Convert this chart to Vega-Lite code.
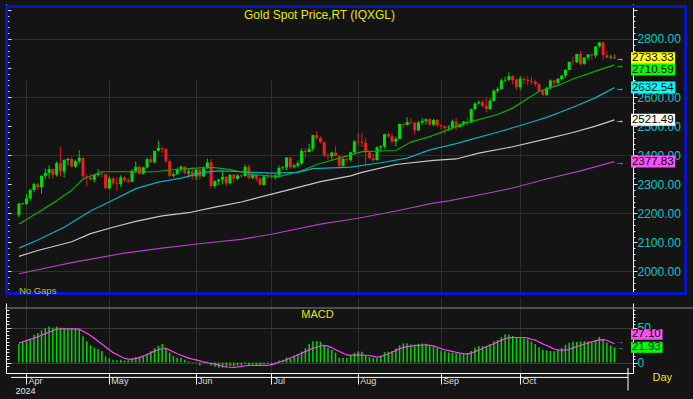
{
"$schema": "https://vega.github.io/schema/vega-lite/v6.json",
"width": 627, "height": 369,
"autosize": "none",
"padding": {"left": 6, "top": 4, "right": 60, "bottom": 26},
"background": "#141414",
"config": {"view": {"stroke": null}, "font": "Liberation Sans", "axis": {"labelFont": "Liberation Sans", "titleFont": "Liberation Sans"}},
"datasets": {
"bars": [
{"i":0,"d":"2024-03-28","o":2194,"h":2236,"l":2186,"c":2233,"m":26.6,"s":27.9},
{"i":1,"d":"2024-03-29","o":2232,"h":2236,"l":2230,"c":2234,"m":28.7,"s":29.7},
{"i":2,"d":"2024-04-01","o":2233,"h":2266,"l":2229,"c":2251,"m":30.7,"s":31.5},
{"i":3,"d":"2024-04-02","o":2251,"h":2285,"l":2243,"c":2280,"m":34,"s":33.3},
{"i":4,"d":"2024-04-03","o":2280,"h":2305,"l":2272,"c":2300,"m":40,"s":35.1},
{"i":5,"d":"2024-04-04","o":2300,"h":2305,"l":2280,"c":2290,"m":42,"s":36.9},
{"i":6,"d":"2024-04-05","o":2290,"h":2331,"l":2268,"c":2329,"m":46,"s":39.2},
{"i":7,"d":"2024-04-08","o":2329,"h":2354,"l":2319,"c":2339,"m":49,"s":41.5},
{"i":8,"d":"2024-04-09","o":2339,"h":2365,"l":2320,"c":2352,"m":51.6,"s":43.6},
{"i":9,"d":"2024-04-10","o":2352,"h":2354,"l":2319,"c":2333,"m":50,"s":45.7},
{"i":10,"d":"2024-04-11","o":2333,"h":2378,"l":2326,"c":2372,"m":51.6,"s":47.8},
{"i":11,"d":"2024-04-12","o":2372,"h":2431,"l":2326,"c":2344,"m":50,"s":48.4},
{"i":12,"d":"2024-04-15","o":2344,"h":2386,"l":2324,"c":2383,"m":50,"s":48.4},
{"i":13,"d":"2024-04-16","o":2383,"h":2392,"l":2364,"c":2387,"m":49,"s":48.4},
{"i":14,"d":"2024-04-17","o":2387,"h":2395,"l":2358,"c":2361,"m":49,"s":48.3},
{"i":15,"d":"2024-04-18","o":2361,"h":2385,"l":2356,"c":2379,"m":48.4,"s":48.2},
{"i":16,"d":"2024-04-19","o":2379,"h":2417,"l":2371,"c":2391,"m":47,"s":48},
{"i":17,"d":"2024-04-22","o":2391,"h":2392,"l":2320,"c":2327,"m":37.7,"s":45},
{"i":18,"d":"2024-04-23","o":2327,"h":2333,"l":2292,"c":2322,"m":30.7,"s":42},
{"i":19,"d":"2024-04-24","o":2322,"h":2334,"l":2313,"c":2316,"m":24.6,"s":38.9},
{"i":20,"d":"2024-04-25","o":2316,"h":2336,"l":2306,"c":2332,"m":21.3,"s":34.8},
{"i":21,"d":"2024-04-26","o":2332,"h":2352,"l":2326,"c":2337,"m":19.3,"s":30.7},
{"i":22,"d":"2024-04-29","o":2337,"h":2346,"l":2323,"c":2335,"m":16.4,"s":26.6},
{"i":23,"d":"2024-04-30","o":2335,"h":2336,"l":2285,"c":2286,"m":9,"s":22.5},
{"i":24,"d":"2024-05-01","o":2286,"h":2327,"l":2282,"c":2320,"m":6.1,"s":18.4},
{"i":25,"d":"2024-05-02","o":2320,"h":2326,"l":2296,"c":2303,"m":4.1,"s":14.3},
{"i":26,"d":"2024-05-03","o":2303,"h":2324,"l":2277,"c":2301,"m":3.3,"s":11.5},
{"i":27,"d":"2024-05-06","o":2301,"h":2331,"l":2291,"c":2323,"m":4.1,"s":8.8},
{"i":28,"d":"2024-05-07","o":2323,"h":2327,"l":2308,"c":2314,"m":2.9,"s":6},
{"i":29,"d":"2024-05-08","o":2314,"h":2321,"l":2303,"c":2309,"m":3.3,"s":4.9},
{"i":30,"d":"2024-05-09","o":2309,"h":2351,"l":2307,"c":2346,"m":6.1,"s":4.9},
{"i":31,"d":"2024-05-10","o":2346,"h":2378,"l":2338,"c":2360,"m":8.2,"s":5.8},
{"i":32,"d":"2024-05-13","o":2360,"h":2364,"l":2333,"c":2336,"m":7.4,"s":7.5},
{"i":33,"d":"2024-05-14","o":2336,"h":2360,"l":2333,"c":2358,"m":10.2,"s":9.2},
{"i":34,"d":"2024-05-15","o":2358,"h":2392,"l":2354,"c":2386,"m":13.1,"s":11.5},
{"i":35,"d":"2024-05-16","o":2386,"h":2397,"l":2373,"c":2376,"m":16.4,"s":14},
{"i":36,"d":"2024-05-17","o":2376,"h":2415,"l":2371,"c":2415,"m":20.5,"s":16.4},
{"i":37,"d":"2024-05-20","o":2415,"h":2450,"l":2413,"c":2425,"m":23.8,"s":18.4},
{"i":38,"d":"2024-05-21","o":2425,"h":2427,"l":2407,"c":2421,"m":26.6,"s":19.5},
{"i":39,"d":"2024-05-22","o":2421,"h":2425,"l":2374,"c":2379,"m":21.3,"s":20.5},
{"i":40,"d":"2024-05-23","o":2379,"h":2386,"l":2325,"c":2329,"m":14.3,"s":18},
{"i":41,"d":"2024-05-24","o":2329,"h":2341,"l":2324,"c":2334,"m":9.4,"s":15.2},
{"i":42,"d":"2024-05-27","o":2334,"h":2358,"l":2333,"c":2351,"m":7,"s":12.6},
{"i":43,"d":"2024-05-28","o":2351,"h":2364,"l":2341,"c":2361,"m":7,"s":10.5},
{"i":44,"d":"2024-05-29","o":2361,"h":2362,"l":2334,"c":2338,"m":4.1,"s":8.5},
{"i":45,"d":"2024-05-30","o":2338,"h":2351,"l":2323,"c":2343,"m":2,"s":6.5},
{"i":46,"d":"2024-05-31","o":2343,"h":2360,"l":2315,"c":2327,"m":0.8,"s":4.9},
{"i":47,"d":"2024-06-03","o":2327,"h":2354,"l":2314,"c":2350,"m":0.8,"s":3.8},
{"i":48,"d":"2024-06-04","o":2350,"h":2353,"l":2316,"c":2327,"m":-4,"s":2.5},
{"i":49,"d":"2024-06-05","o":2327,"h":2361,"l":2325,"c":2355,"m":-0.8,"s":1},
{"i":50,"d":"2024-06-06","o":2355,"h":2388,"l":2353,"c":2375,"m":1.6,"s":-0.2},
{"i":51,"d":"2024-06-07","o":2375,"h":2387,"l":2286,"c":2294,"m":-4,"s":-1.3},
{"i":52,"d":"2024-06-10","o":2294,"h":2314,"l":2286,"c":2311,"m":-6,"s":-2.2},
{"i":53,"d":"2024-06-11","o":2311,"h":2318,"l":2297,"c":2316,"m":-7.2,"s":-3.7},
{"i":54,"d":"2024-06-12","o":2316,"h":2342,"l":2299,"c":2325,"m":-7,"s":-5.2},
{"i":55,"d":"2024-06-13","o":2325,"h":2328,"l":2294,"c":2303,"m":-6.5,"s":-6.3},
{"i":56,"d":"2024-06-14","o":2303,"h":2335,"l":2299,"c":2333,"m":-5,"s":-6.7},
{"i":57,"d":"2024-06-17","o":2333,"h":2335,"l":2307,"c":2319,"m":-5.5,"s":-7},
{"i":58,"d":"2024-06-18","o":2319,"h":2335,"l":2314,"c":2330,"m":-4.5,"s":-6.3},
{"i":59,"d":"2024-06-19","o":2330,"h":2335,"l":2322,"c":2328,"m":-4,"s":-5.5},
{"i":60,"d":"2024-06-20","o":2328,"h":2368,"l":2326,"c":2360,"m":-1.5,"s":-4.5},
{"i":61,"d":"2024-06-21","o":2360,"h":2368,"l":2316,"c":2322,"m":-3.5,"s":-4.1},
{"i":62,"d":"2024-06-24","o":2322,"h":2337,"l":2317,"c":2334,"m":-2.5,"s":-4.1},
{"i":63,"d":"2024-06-25","o":2334,"h":2334,"l":2309,"c":2319,"m":-3,"s":-4.1},
{"i":64,"d":"2024-06-26","o":2319,"h":2324,"l":2294,"c":2298,"m":-4,"s":-4.1},
{"i":65,"d":"2024-06-27","o":2298,"h":2332,"l":2295,"c":2327,"m":-2.5,"s":-4.1},
{"i":66,"d":"2024-06-28","o":2327,"h":2340,"l":2317,"c":2326,"m":-2,"s":-4.1},
{"i":67,"d":"2024-07-01","o":2326,"h":2335,"l":2318,"c":2323,"m":-1.5,"s":-2.8},
{"i":68,"d":"2024-07-02","o":2323,"h":2335,"l":2316,"c":2330,"m":0.8,"s":-1.4},
{"i":69,"d":"2024-07-03","o":2330,"h":2364,"l":2323,"c":2356,"m":3,"s":0.5},
{"i":70,"d":"2024-07-04","o":2356,"h":2363,"l":2350,"c":2358,"m":4,"s":2.3},
{"i":71,"d":"2024-07-05","o":2358,"h":2393,"l":2349,"c":2392,"m":7,"s":4.2},
{"i":72,"d":"2024-07-08","o":2392,"h":2393,"l":2353,"c":2359,"m":6,"s":6.5},
{"i":73,"d":"2024-07-09","o":2359,"h":2370,"l":2354,"c":2364,"m":10,"s":8.8},
{"i":74,"d":"2024-07-10","o":2364,"h":2381,"l":2357,"c":2372,"m":12,"s":11.2},
{"i":75,"d":"2024-07-11","o":2372,"h":2424,"l":2366,"c":2415,"m":16,"s":13.5},
{"i":76,"d":"2024-07-12","o":2415,"h":2425,"l":2392,"c":2411,"m":20.5,"s":15.8},
{"i":77,"d":"2024-07-15","o":2411,"h":2440,"l":2410,"c":2422,"m":26.6,"s":18},
{"i":78,"d":"2024-07-16","o":2422,"h":2470,"l":2412,"c":2469,"m":30.7,"s":20.3},
{"i":79,"d":"2024-07-17","o":2469,"h":2483,"l":2453,"c":2459,"m":31,"s":22},
{"i":80,"d":"2024-07-18","o":2459,"h":2465,"l":2440,"c":2445,"m":29.9,"s":23.8},
{"i":81,"d":"2024-07-19","o":2445,"h":2446,"l":2394,"c":2400,"m":24.6,"s":24.6},
{"i":82,"d":"2024-07-22","o":2400,"h":2408,"l":2384,"c":2396,"m":21.3,"s":23.5},
{"i":83,"d":"2024-07-23","o":2396,"h":2412,"l":2385,"c":2409,"m":18.4,"s":21.5},
{"i":84,"d":"2024-07-24","o":2409,"h":2431,"l":2396,"c":2397,"m":14.3,"s":18.5},
{"i":85,"d":"2024-07-25","o":2397,"h":2400,"l":2353,"c":2364,"m":7,"s":16},
{"i":86,"d":"2024-07-26","o":2364,"h":2390,"l":2359,"c":2387,"m":7,"s":13.5},
{"i":87,"d":"2024-07-29","o":2387,"h":2393,"l":2374,"c":2384,"m":7,"s":11},
{"i":88,"d":"2024-07-30","o":2384,"h":2412,"l":2378,"c":2410,"m":10,"s":10.4},
{"i":89,"d":"2024-07-31","o":2410,"h":2451,"l":2405,"c":2447,"m":14,"s":10.7},
{"i":90,"d":"2024-08-01","o":2447,"h":2477,"l":2432,"c":2446,"m":16.4,"s":11},
{"i":91,"d":"2024-08-02","o":2446,"h":2477,"l":2428,"c":2443,"m":15.6,"s":10.7},
{"i":92,"d":"2024-08-05","o":2443,"h":2460,"l":2364,"c":2410,"m":10.2,"s":10.5},
{"i":93,"d":"2024-08-06","o":2410,"h":2412,"l":2385,"c":2390,"m":8.2,"s":10.2},
{"i":94,"d":"2024-08-07","o":2390,"h":2404,"l":2377,"c":2383,"m":6.5,"s":9},
{"i":95,"d":"2024-08-08","o":2383,"h":2431,"l":2381,"c":2427,"m":6.5,"s":7.8},
{"i":96,"d":"2024-08-09","o":2427,"h":2434,"l":2415,"c":2431,"m":10,"s":8.5},
{"i":97,"d":"2024-08-12","o":2431,"h":2474,"l":2423,"c":2472,"m":14.8,"s":10.5},
{"i":98,"d":"2024-08-13","o":2472,"h":2477,"l":2460,"c":2465,"m":15.6,"s":12.3},
{"i":99,"d":"2024-08-14","o":2465,"h":2476,"l":2440,"c":2447,"m":16.5,"s":14.8},
{"i":100,"d":"2024-08-15","o":2447,"h":2464,"l":2430,"c":2456,"m":20.5,"s":17.2},
{"i":101,"d":"2024-08-16","o":2456,"h":2509,"l":2455,"c":2507,"m":24.6,"s":19.8},
{"i":102,"d":"2024-08-19","o":2507,"h":2510,"l":2492,"c":2504,"m":27.5,"s":21.5},
{"i":103,"d":"2024-08-20","o":2504,"h":2531,"l":2501,"c":2514,"m":27.9,"s":22.8},
{"i":104,"d":"2024-08-21","o":2514,"h":2527,"l":2506,"c":2512,"m":26,"s":23.8},
{"i":105,"d":"2024-08-22","o":2512,"h":2514,"l":2471,"c":2485,"m":25.8,"s":24.3},
{"i":106,"d":"2024-08-23","o":2485,"h":2517,"l":2484,"c":2512,"m":27,"s":24.8},
{"i":107,"d":"2024-08-26","o":2512,"h":2527,"l":2506,"c":2518,"m":27.5,"s":25.2},
{"i":108,"d":"2024-08-27","o":2518,"h":2526,"l":2505,"c":2524,"m":27,"s":25.3},
{"i":109,"d":"2024-08-28","o":2524,"h":2527,"l":2498,"c":2505,"m":25,"s":24.7},
{"i":110,"d":"2024-08-29","o":2505,"h":2525,"l":2500,"c":2521,"m":23,"s":24},
{"i":111,"d":"2024-08-30","o":2521,"h":2524,"l":2496,"c":2503,"m":21,"s":22},
{"i":112,"d":"2024-09-02","o":2503,"h":2506,"l":2488,"c":2500,"m":17.5,"s":20},
{"i":113,"d":"2024-09-03","o":2500,"h":2502,"l":2472,"c":2493,"m":16.4,"s":18.4},
{"i":114,"d":"2024-09-04","o":2493,"h":2503,"l":2484,"c":2495,"m":14.5,"s":17.2},
{"i":115,"d":"2024-09-05","o":2495,"h":2523,"l":2490,"c":2516,"m":14.3,"s":16},
{"i":116,"d":"2024-09-06","o":2516,"h":2529,"l":2485,"c":2497,"m":13.3,"s":14.8},
{"i":117,"d":"2024-09-09","o":2497,"h":2510,"l":2494,"c":2506,"m":12.4,"s":13.6},
{"i":118,"d":"2024-09-10","o":2506,"h":2517,"l":2500,"c":2516,"m":12.3,"s":12.8},
{"i":119,"d":"2024-09-11","o":2516,"h":2529,"l":2501,"c":2512,"m":13.5,"s":12.4},
{"i":120,"d":"2024-09-12","o":2512,"h":2560,"l":2510,"c":2558,"m":16.5,"s":13.5},
{"i":121,"d":"2024-09-13","o":2558,"h":2581,"l":2555,"c":2578,"m":21.5,"s":15.8},
{"i":122,"d":"2024-09-16","o":2578,"h":2589,"l":2575,"c":2582,"m":23.5,"s":17.8},
{"i":123,"d":"2024-09-17","o":2582,"h":2590,"l":2566,"c":2570,"m":23.5,"s":20.3},
{"i":124,"d":"2024-09-18","o":2570,"h":2600,"l":2547,"c":2559,"m":23.5,"s":22.6},
{"i":125,"d":"2024-09-19","o":2559,"h":2595,"l":2555,"c":2587,"m":26.6,"s":24.9},
{"i":126,"d":"2024-09-20","o":2587,"h":2625,"l":2585,"c":2622,"m":30.7,"s":27},
{"i":127,"d":"2024-09-23","o":2622,"h":2634,"l":2614,"c":2628,"m":32.5,"s":29.5},
{"i":128,"d":"2024-09-24","o":2628,"h":2664,"l":2624,"c":2657,"m":36.5,"s":31.9},
{"i":129,"d":"2024-09-25","o":2657,"h":2670,"l":2651,"c":2659,"m":40.5,"s":34.2},
{"i":130,"d":"2024-09-26","o":2659,"h":2685,"l":2654,"c":2672,"m":40,"s":35.3},
{"i":131,"d":"2024-09-27","o":2672,"h":2675,"l":2643,"c":2658,"m":38,"s":35.8},
{"i":132,"d":"2024-09-30","o":2658,"h":2665,"l":2625,"c":2634,"m":36.5,"s":36},
{"i":133,"d":"2024-10-01","o":2634,"h":2673,"l":2624,"c":2663,"m":36,"s":36},
{"i":134,"d":"2024-10-02","o":2663,"h":2669,"l":2644,"c":2659,"m":34.5,"s":36},
{"i":135,"d":"2024-10-03","o":2659,"h":2672,"l":2640,"c":2656,"m":33.2,"s":35},
{"i":136,"d":"2024-10-04","o":2656,"h":2670,"l":2642,"c":2653,"m":30,"s":33.5},
{"i":137,"d":"2024-10-07","o":2653,"h":2660,"l":2635,"c":2644,"m":26.5,"s":32.3},
{"i":138,"d":"2024-10-08","o":2644,"h":2649,"l":2615,"c":2622,"m":22,"s":29.5},
{"i":139,"d":"2024-10-09","o":2622,"h":2625,"l":2605,"c":2608,"m":18.4,"s":26.8},
{"i":140,"d":"2024-10-10","o":2608,"h":2635,"l":2604,"c":2631,"m":17.2,"s":24.6},
{"i":141,"d":"2024-10-11","o":2631,"h":2661,"l":2626,"c":2657,"m":16.4,"s":22.2},
{"i":142,"d":"2024-10-14","o":2657,"h":2660,"l":2634,"c":2649,"m":16.4,"s":19.5},
{"i":143,"d":"2024-10-15","o":2649,"h":2666,"l":2641,"c":2662,"m":18,"s":18.2},
{"i":144,"d":"2024-10-16","o":2662,"h":2675,"l":2656,"c":2674,"m":21,"s":17.9},
{"i":145,"d":"2024-10-17","o":2674,"h":2696,"l":2665,"c":2693,"m":25.5,"s":17.7},
{"i":146,"d":"2024-10-18","o":2693,"h":2722,"l":2692,"c":2721,"m":28.5,"s":19},
{"i":147,"d":"2024-10-21","o":2721,"h":2740,"l":2709,"c":2720,"m":29.9,"s":21.1},
{"i":148,"d":"2024-10-22","o":2720,"h":2749,"l":2717,"c":2748,"m":29.6,"s":23},
{"i":149,"d":"2024-10-23","o":2748,"h":2758,"l":2708,"c":2714,"m":30.3,"s":24.7},
{"i":150,"d":"2024-10-24","o":2714,"h":2737,"l":2711,"c":2736,"m":30.7,"s":26.3},
{"i":151,"d":"2024-10-25","o":2736,"h":2746,"l":2727,"c":2747,"m":30.7,"s":27.9},
{"i":152,"d":"2024-10-28","o":2747,"h":2747,"l":2728,"c":2743,"m":30.7,"s":29.5},
{"i":153,"d":"2024-10-29","o":2743,"h":2775,"l":2735,"c":2774,"m":32.8,"s":31.1},
{"i":154,"d":"2024-10-30","o":2774,"h":2790,"l":2770,"c":2788,"m":36.9,"s":32.6},
{"i":155,"d":"2024-10-31","o":2788,"h":2790,"l":2730,"c":2744,"m":32.8,"s":32.8},
{"i":156,"d":"2024-11-01","o":2744,"h":2758,"l":2733,"c":2736,"m":28.7,"s":32},
{"i":157,"d":"2024-11-04","o":2736,"h":2745,"l":2732,"c":2738,"m":24.6,"s":29.5},
{"i":158,"d":"2024-11-05","o":2738,"h":2749,"l":2730,"c":2733.33,"m":21.93,"s":27.1}
],
"ma": [
{"k":"ma1","i":0,"v":2163},{"k":"ma1","i":5,"v":2202},{"k":"ma1","i":9,"v":2235},{"k":"ma1","i":14,"v":2279},{"k":"ma1","i":17,"v":2318},{"k":"ma1","i":22,"v":2343},{"k":"ma1","i":30,"v":2343},{"k":"ma1","i":36,"v":2343},{"k":"ma1","i":40,"v":2349},{"k":"ma1","i":49,"v":2357},{"k":"ma1","i":52,"v":2357},{"k":"ma1","i":56,"v":2350},{"k":"ma1","i":59,"v":2342},{"k":"ma1","i":62,"v":2333},{"k":"ma1","i":69,"v":2326},{"k":"ma1","i":75,"v":2346},{"k":"ma1","i":79,"v":2368},{"k":"ma1","i":88,"v":2401},{"k":"ma1","i":91,"v":2412},{"k":"ma1","i":100,"v":2416},{"k":"ma1","i":104,"v":2445},{"k":"ma1","i":109,"v":2464},{"k":"ma1","i":114,"v":2488},{"k":"ma1","i":119,"v":2512},{"k":"ma1","i":127,"v":2540},{"k":"ma1","i":131,"v":2562},{"k":"ma1","i":135,"v":2595},{"k":"ma1","i":138,"v":2620},{"k":"ma1","i":143,"v":2640},{"k":"ma1","i":147,"v":2662},{"k":"ma1","i":153,"v":2689},{"k":"ma1","i":158,"v":2710.59},
{"k":"ma2","i":0,"v":2080},{"k":"ma2","i":5,"v":2108},{"k":"ma2","i":12,"v":2152},{"k":"ma2","i":19,"v":2208},{"k":"ma2","i":25,"v":2246},{"k":"ma2","i":31,"v":2285},{"k":"ma2","i":37,"v":2307},{"k":"ma2","i":43,"v":2321},{"k":"ma2","i":49,"v":2341},{"k":"ma2","i":53,"v":2346},{"k":"ma2","i":59,"v":2343},{"k":"ma2","i":62,"v":2341},{"k":"ma2","i":67,"v":2338},{"k":"ma2","i":74,"v":2341},{"k":"ma2","i":78,"v":2354},{"k":"ma2","i":88,"v":2359},{"k":"ma2","i":96,"v":2374},{"k":"ma2","i":103,"v":2390},{"k":"ma2","i":109,"v":2418},{"k":"ma2","i":116,"v":2440},{"k":"ma2","i":119,"v":2451},{"k":"ma2","i":127,"v":2479},{"k":"ma2","i":135,"v":2510},{"k":"ma2","i":140,"v":2530},{"k":"ma2","i":147,"v":2565},{"k":"ma2","i":153,"v":2598},{"k":"ma2","i":158,"v":2632.54},
{"k":"ma3","i":0,"v":2052},{"k":"ma3","i":5,"v":2072},{"k":"ma3","i":14,"v":2102},{"k":"ma3","i":19,"v":2130},{"k":"ma3","i":25,"v":2152},{"k":"ma3","i":31,"v":2172},{"k":"ma3","i":38,"v":2191},{"k":"ma3","i":45,"v":2202},{"k":"ma3","i":52,"v":2221},{"k":"ma3","i":59,"v":2239},{"k":"ma3","i":62,"v":2249},{"k":"ma3","i":71,"v":2279},{"k":"ma3","i":80,"v":2309},{"k":"ma3","i":88,"v":2329},{"k":"ma3","i":91,"v":2341},{"k":"ma3","i":100,"v":2368},{"k":"ma3","i":110,"v":2382},{"k":"ma3","i":116,"v":2387},{"k":"ma3","i":122,"v":2407},{"k":"ma3","i":131,"v":2429},{"k":"ma3","i":140,"v":2456},{"k":"ma3","i":147,"v":2478},{"k":"ma3","i":153,"v":2500},{"k":"ma3","i":158,"v":2521.49},
{"k":"ma4","i":0,"v":1992},{"k":"ma4","i":14,"v":2030},{"k":"ma4","i":28,"v":2063},{"k":"ma4","i":38,"v":2080},{"k":"ma4","i":49,"v":2097},{"k":"ma4","i":59,"v":2110},{"k":"ma4","i":67,"v":2128},{"k":"ma4","i":80,"v":2163},{"k":"ma4","i":90,"v":2183},{"k":"ma4","i":100,"v":2208},{"k":"ma4","i":110,"v":2235},{"k":"ma4","i":114,"v":2243},{"k":"ma4","i":122,"v":2263},{"k":"ma4","i":131,"v":2287},{"k":"ma4","i":140,"v":2318},{"k":"ma4","i":149,"v":2346},{"k":"ma4","i":158,"v":2377.83}
],
"tags": [
{"k":"close","v":2733.33,"g":"p"},
{"k":"ma1","v":2710.59,"g":"p"},
{"k":"ma2","v":2632.54,"g":"p"},
{"k":"ma3","v":2521.49,"g":"p"},
{"k":"ma4","v":2377.83,"g":"p"},
{"k":"sig","v":27.10,"g":"m"},
{"k":"macd","v":21.93,"g":"m"}
]
},
"layer": [
{
"layer": [
 {"data": {"name": "bars"},
  "transform": [{"window": [{"op": "lag", "field": "c", "as": "pc"}], "sort": [{"field": "i"}]}],
  "mark": {"type": "rule", "strokeWidth": 1},
  "encoding": {
   "x": {"field": "i", "type": "quantitative", "scale": {"domain": [-2.1, 161.6], "nice": false, "zero": false},
    "axis": {"values": [2,24,47,67,90,112,133], "labelExpr": "datum.value === 2 ? 'Apr' : datum.value === 24 ? 'May' : datum.value === 47 ? 'Jun' : datum.value === 67 ? 'Jul' : datum.value === 90 ? 'Aug' : datum.value === 112 ? 'Sep' : 'Oct'",
     "grid": true, "gridColor": "#2e2e2e", "domainColor": "#ffffff", "tickColor": "#ffffff", "tickSize": 11,
     "labelColor": "#dcdcdc", "labelFontSize": 9, "labelAlign": "left", "labelBaseline": "alphabetic", "labelPadding": -1, "labelOffset": 1.5,
     "labelFlush": false, "labelOverlap": false,
     "title": "2024", "titleColor": "#e8e8e8", "titleFontSize": 9, "titleFontWeight": "normal", "titleAnchor": "start", "titleAlign": "left", "titleBaseline": "middle", "titleX": 9, "titleY": 17}},
   "y": {"field": "l", "type": "quantitative", "scale": {"domain": [1929.2, 2903], "range": [293, 0], "nice": false, "zero": false},
    "axis": {"orient": "right", "values": [1940,1960,1980,2000,2020,2040,2060,2080,2100,2120,2140,2160,2180,2200,2220,2240,2260,2280,2300,2320,2340,2360,2380,2400,2420,2440,2460,2480,2500,2520,2540,2560,2580,2600,2620,2640,2660,2680,2700,2720,2740,2760,2780,2800,2820,2840,2860,2880,2900],
     "labelExpr": "datum.value % 100 === 0 && datum.value <= 2800 && datum.value !== 2700 ? format(datum.value, '.2f') : ''",
     "labelColor": "#00c8d0", "labelFontSize": 12, "labelPadding": 0, "labelBaseline": "middle", "labelOverlap": false, "labelFlush": false,
     "tickColor": "#e0e0e0", "tickSize": {"condition": {"test": "datum.value % 100 === 0", "value": 4}, "value": 2},
     "domainColor": "#ffffff", "grid": true, "gridColor": "#2e2e2e",
     "gridOpacity": {"condition": {"test": "datum.value % 200 === 0", "value": 1}, "value": 0}, "title": null}},
   "y2": {"field": "h"},
   "color": {"condition": [{"test": "datum.c > datum.o && !(datum.pc > datum.c)", "value": "#00d000"}, {"test": "datum.c < datum.o && !(datum.pc < datum.c)", "value": "#e01818"}], "value": "#d8d800"}
  }},
 {"data": {"name": "bars"},
  "transform": [{"window": [{"op": "lag", "field": "c", "as": "pc"}], "sort": [{"field": "i"}]}],
  "mark": {"type": "bar", "width": 3},
  "encoding": {
   "x": {"field": "i", "type": "quantitative"},
   "y": {"field": "o", "type": "quantitative",
    "axis": {"orient": "left", "values": [1940,1960,1980,2000,2020,2040,2060,2080,2100,2120,2140,2160,2180,2200,2220,2240,2260,2280,2300,2320,2340,2360,2380,2400,2420,2440,2460,2480,2500,2520,2540,2560,2580,2600,2620,2640,2660,2680,2700,2720,2740,2760,2780,2800,2820,2840,2860,2880,2900],
     "labels": false, "grid": false, "domainColor": "#ffffff", "tickColor": "#e0e0e0",
     "tickSize": {"condition": {"test": "datum.value % 100 === 0", "value": -5}, "value": -3}, "title": null}},
   "y2": {"field": "c"},
   "color": {"condition": [{"test": "datum.c > datum.o && !(datum.pc > datum.c)", "value": "#00e000"}, {"test": "datum.c < datum.o && !(datum.pc < datum.c)", "value": "#e82020"}], "value": "#a0a000"}
  }},
 {"data": {"name": "ma"},
  "mark": {"type": "line", "strokeWidth": 1.2},
  "encoding": {
   "x": {"field": "i", "type": "quantitative"},
   "y": {"field": "v", "type": "quantitative", "axis": null},
   "stroke": {"field": "k", "type": "nominal", "scale": {"domain": ["ma1","ma2","ma3","ma4"], "range": ["#00b000","#00b0c0","#c8c8c8","#b040c0"]}, "legend": null}
  }},
 {"data": {"values": [{}]},
  "mark": {"type": "rect", "fill": "#141414"},
  "encoding": {"x": {"datum": -3.7}, "x2": {"datum": 178.8}, "y": {"datum": 1924.2, "axis": null}, "y2": {"datum": 1909.3}}},
 {"data": {"values": [{}]},
  "mark": {"type": "rect", "fillOpacity": 0, "stroke": "#0a14c8", "strokeWidth": 3},
  "encoding": {"x": {"datum": -3.27}, "x2": {"datum": 176.88}, "y": {"datum": 2911.3, "axis": null}, "y2": {"datum": 1924.2}}},
 {"data": {"values": [{"t": "Gold Spot Price,RT (IQXGL)"}]},
  "mark": {"type": "text", "fontSize": 12, "fill": "#e6e600", "align": "center", "baseline": "middle"},
  "encoding": {"x": {"datum": 79.75}, "y": {"datum": 2882, "axis": null}, "text": {"field": "t"}}},
 {"data": {"values": [{"t": "No Gaps"}]},
  "mark": {"type": "text", "fontSize": 9.5, "fill": "#c0c000", "align": "left", "baseline": "middle"},
  "encoding": {"x": {"datum": 0}, "y": {"datum": 1932, "axis": null}, "text": {"field": "t"}}},
 {"data": {"name": "tags"},
  "transform": [{"filter": "datum.g === 'p' && datum.k !== 'ma1'"}],
  "mark": {"type": "bar", "size": 12},
  "encoding": {"x": {"datum": 162.4}, "x2": {"datum": 174.1}, "y": {"field": "v", "type": "quantitative", "axis": null},
   "fill": {"field": "k", "type": "nominal", "scale": {"domain": ["close","ma1","ma2","ma3","ma4","sig","macd"], "range": ["#ffff00","#00ff00","#00ffff","#ffffff","#ff50ff","#ff50ff","#00ff00"]}, "legend": null}}},
 {"data": {"name": "tags"},
  "transform": [{"filter": "datum.k === 'ma1'"}],
  "mark": {"type": "bar", "size": 12, "yOffset": 4.7},
  "encoding": {"x": {"datum": 162.4}, "x2": {"datum": 174.1}, "y": {"field": "v", "type": "quantitative", "axis": null},
   "fill": {"field": "k", "type": "nominal", "legend": null}}},
 {"data": {"name": "tags"},
  "transform": [{"filter": "datum.g === 'p' && datum.k !== 'ma1'"}],
  "mark": {"type": "text", "fontSize": 11.5, "fill": "#000000", "align": "left", "baseline": "middle"},
  "encoding": {"x": {"datum": 162.65}, "y": {"field": "v", "type": "quantitative", "axis": null}, "text": {"field": "v", "format": ".2f"}}},
 {"data": {"name": "tags"},
  "transform": [{"filter": "datum.k === 'ma1'"}],
  "mark": {"type": "text", "fontSize": 11.5, "fill": "#000000", "align": "left", "baseline": "middle", "yOffset": 4.7},
  "encoding": {"x": {"datum": 162.65}, "y": {"field": "v", "type": "quantitative", "axis": null}, "text": {"field": "v", "format": ".2f"}}},
 {"data": {"name": "tags"},
  "transform": [{"filter": "datum.g === 'p'"}],
  "mark": {"type": "text", "fontSize": 9, "align": "center", "baseline": "middle", "text": "→"},
  "encoding": {"x": {"datum": 159.4}, "y": {"field": "v", "type": "quantitative", "axis": null},
   "fill": {"field": "k", "type": "nominal", "legend": null}}}
]
},
{
"layer": [
 {"data": {"name": "bars"},
  "mark": {"type": "bar", "width": 1.5, "fill": "#00d800"},
  "encoding": {
   "x": {"field": "i", "type": "quantitative"},
   "y": {"field": "m", "type": "quantitative", "scale": {"domain": [-7.74, 78.25], "range": [369, 299], "nice": false, "zero": false},
    "axis": {"orient": "right", "values": [-5,0,5,10,15,20,25,30,35,40,45,50,55,60,65,70,75],
     "labelExpr": "datum.value === 0 || datum.value === 50 ? '' + datum.value : ''",
     "labelColor": "#00c8d0", "labelFontSize": 12, "labelPadding": 0, "labelBaseline": "middle", "labelOverlap": false, "labelFlush": false,
     "tickColor": "#e0e0e0", "tickSize": {"condition": {"test": "datum.value % 50 === 0", "value": 4}, "value": 2},
     "domainColor": "#ffffff", "grid": true, "gridColor": "#3a3a3a",
     "gridOpacity": {"condition": {"test": "datum.value === 0 || datum.value === 50", "value": 1}, "value": 0}, "title": null}},
   "y2": {"datum": 0}
  }},
 {"data": {"name": "bars"},
  "mark": {"type": "line", "stroke": "#ff40ff", "strokeWidth": 1.2},
  "encoding": {
   "x": {"field": "i", "type": "quantitative"},
   "y": {"field": "s", "type": "quantitative",
    "axis": {"orient": "left", "values": [-5,0,5,10,15,20,25,30,35,40,45,50,55,60,65,70,75], "labels": false, "grid": false,
     "domainColor": "#ffffff", "tickColor": "#e0e0e0", "tickSize": {"condition": {"test": "datum.value % 50 === 0", "value": -5}, "value": -3}, "title": null}}
  }},
 {"data": {"values": [{}]},
  "mark": {"type": "rule", "stroke": "#8a8a8a", "strokeWidth": 1},
  "encoding": {"x": {"datum": -3.7}, "x2": {"datum": 178.8}, "y": {"datum": 78.25, "axis": null}}},
 {"data": {"values": [{}]},
  "mark": {"type": "rule", "stroke": "#ffffff", "strokeWidth": 1},
  "encoding": {"x": {"datum": -2.1}, "x2": {"datum": 161.6}, "y": {"datum": -21.2, "axis": null}}},
 {"data": {"values": [{}]},
  "mark": {"type": "rule", "stroke": "#ffffff", "strokeWidth": 1},
  "encoding": {"x": {"datum": 161.6}, "y": {"datum": -7.74, "axis": null}, "y2": {"datum": -40}}},
 {"data": {"values": [{"t": "MACD"}]},
  "mark": {"type": "text", "fontSize": 11, "fill": "#e6e600", "align": "center", "baseline": "middle"},
  "encoding": {"x": {"datum": 79.2}, "y": {"datum": 68.5, "axis": null}, "text": {"field": "t"}}},
 {"data": {"values": [{"t": "Day"}]},
  "mark": {"type": "text", "fontSize": 11, "fill": "#e6e600", "align": "left", "baseline": "middle"},
  "encoding": {"x": {"datum": 168.1}, "y": {"datum": -22.4, "axis": null}, "text": {"field": "t"}}},
 {"data": {"name": "tags"},
  "transform": [{"filter": "datum.k === 'macd'"}],
  "mark": {"type": "bar", "size": 11},
  "encoding": {"x": {"datum": 162.4}, "x2": {"datum": 170.75}, "y": {"field": "v", "type": "quantitative", "axis": null},
   "fill": {"field": "k", "type": "nominal", "legend": null}}},
 {"data": {"name": "tags"},
  "transform": [{"filter": "datum.k === 'sig'"}],
  "mark": {"type": "bar", "size": 10.5, "yOffset": -9.2},
  "encoding": {"x": {"datum": 162.4}, "x2": {"datum": 170.75}, "y": {"field": "v", "type": "quantitative", "axis": null},
   "fill": {"field": "k", "type": "nominal", "legend": null}}},
 {"data": {"name": "tags"},
  "transform": [{"filter": "datum.k === 'macd'"}],
  "mark": {"type": "text", "fontSize": 11.5, "fill": "#000000", "align": "left", "baseline": "middle"},
  "encoding": {"x": {"datum": 162.65}, "y": {"field": "v", "type": "quantitative", "axis": null}, "text": {"field": "v", "format": ".2f"}}},
 {"data": {"name": "tags"},
  "transform": [{"filter": "datum.k === 'sig'"}],
  "mark": {"type": "text", "fontSize": 11.5, "fill": "#000000", "align": "left", "baseline": "middle", "yOffset": -9.2},
  "encoding": {"x": {"datum": 162.65}, "y": {"field": "v", "type": "quantitative", "axis": null}, "text": {"field": "v", "format": ".2f"}}},
 {"data": {"name": "tags"},
  "transform": [{"filter": "datum.k === 'sig'"}],
  "mark": {"type": "text", "fontSize": 8, "align": "center", "baseline": "middle", "text": "→", "yOffset": -2},
  "encoding": {"x": {"datum": 159.4}, "y": {"field": "v", "type": "quantitative", "axis": null},
   "fill": {"field": "k", "type": "nominal", "legend": null}}},
 {"data": {"name": "tags"},
  "transform": [{"filter": "datum.k === 'macd'"}],
  "mark": {"type": "text", "fontSize": 8, "align": "center", "baseline": "middle", "text": "→", "yOffset": 0.5},
  "encoding": {"x": {"datum": 159.4}, "y": {"field": "v", "type": "quantitative", "axis": null},
   "fill": {"field": "k", "type": "nominal", "legend": null}}}
]
}
],
"resolve": {"scale": {"y": "independent"}, "axis": {"y": "independent"}}
}
